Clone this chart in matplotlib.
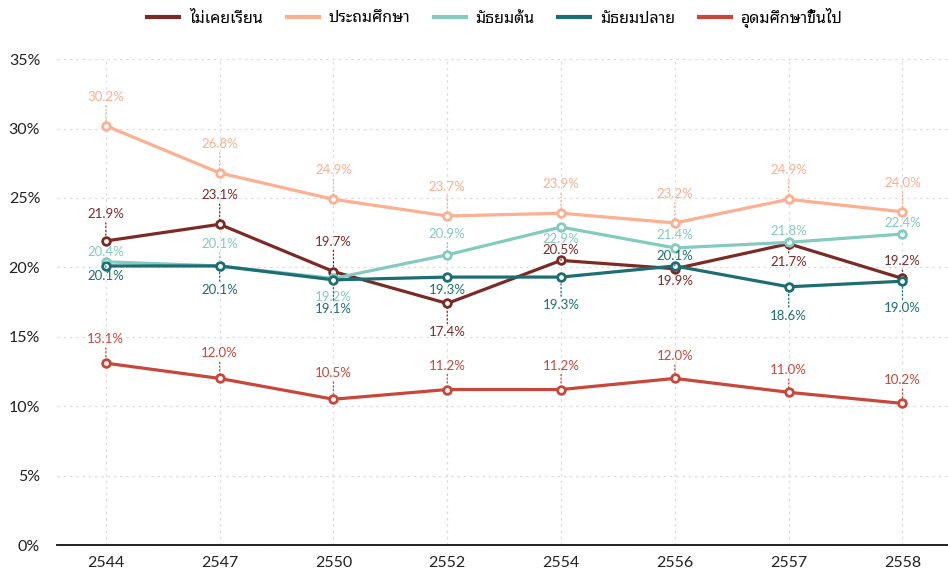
import matplotlib
matplotlib.use('Agg')
import matplotlib.pyplot as plt
from matplotlib.ticker import FuncFormatter

years = ['2544', '2547', '2550', '2552', '2554', '2556', '2557', '2558']

never = [21.9, 23.1, 19.7, 17.4, 20.5, 19.9, 21.7, 19.2]
primary = [30.2, 26.8, 24.9, 23.7, 23.9, 23.2, 24.9, 24.0]
lower_sec = [20.4, 20.1, 19.2, 20.9, 22.9, 21.4, 21.8, 22.4]
upper_sec = [20.1, 20.1, 19.1, 19.3, 19.3, 20.1, 18.6, 19.0]
higher = [13.1, 12.0, 10.5, 11.2, 11.2, 12.0, 11.0, 10.2]

names = ['ไม่เคยเรียน', 'ประถมศึกษา', 'มัธยมต้น', 'มัธยมปลาย', 'อุดมศึกษาขึ้นไป']
colors = ['#7b2b26', '#fdaf91', '#83cbbf', '#1c6e72', '#c8473a']

# label offsets in pixels (negative = above the point)
off_never = [-27, -29, -30, 29, -10, 12, 18, -17]
off_primary = [-29, -29, -29, -29, -29, -29, -29, -29]
off_lower = [-10, -22, 19, -21, 12, -13, -11, -11]
off_upper = [10, 24, 29, 13, 28, -10, 29, 27]
off_higher = [-24, -25, -26, -24, -24, -22, -22, -23]

series = [never, primary, lower_sec, upper_sec, higher]
offsets = [off_never, off_primary, off_lower, off_upper, off_higher]

thai = ['Noto Sans Thai Looped', 'Lato', 'DejaVu Sans']
num_font = ['Lato', 'DejaVu Sans']
tick_font = ['Liberation Sans Narrow', 'Lato', 'DejaVu Sans']

fig = plt.figure(figsize=(9.48, 5.71), dpi=100)
ax = fig.add_axes([0.060, 0.0455, 0.94, 0.851])

x = list(range(len(years)))
for vals, offs, name, c in zip(series, offsets, names, colors):
    ax.plot(x, vals, color=c, lw=2.3, marker='o', ms=5.5, mfc='white',
            mec=c, mew=2, label=name, zorder=3)
    for xi, v, o in zip(x, vals, offs):
        ax.annotate('%.1f%%' % v, (xi, v), xytext=(0, -o),
                    textcoords='offset pixels', ha='center', va='center',
                    fontsize=9.5, color=c, family=num_font, zorder=4,
                    arrowprops=dict(arrowstyle='-', color=c, lw=0.9,
                                    linestyle=(0, (1, 2)), shrinkA=0,
                                    shrinkB=3))

ax.set_ylim(0, 35)
ax.set_xlim(-0.43, 7.4)
ax.set_yticks(range(0, 36, 5))
ax.yaxis.set_major_formatter(FuncFormatter(lambda v, p: '%d%%' % v))
ax.set_xticks(x)
ax.set_xticklabels(years)
for lab in ax.get_xticklabels() + ax.get_yticklabels():
    lab.set_family(tick_font)
    lab.set_fontsize(11.5)
    lab.set_color('#222222')
ax.tick_params(length=0)
ax.tick_params(axis='y', pad=12)
ax.tick_params(axis='x', pad=8)

ax.grid(True, color='#dddddd', linestyle=(0, (2, 3)), lw=0.9)
ax.set_axisbelow(True)
for s in ['top', 'right', 'left']:
    ax.spines[s].set_visible(False)
ax.spines['bottom'].set_color('#222222')
ax.spines['bottom'].set_linewidth(1.4)
ax.spines['bottom'].set_zorder(5)

fig.legend(loc='center', bbox_to_anchor=(0.522, 1 - 18 / 571), ncol=5,
           frameon=False, prop={'family': thai, 'size': 11.5},
           handlelength=2.0, columnspacing=1.5, handletextpad=0.6)
for h in fig.legends[0].legend_handles:
    h.set_marker('')
    h.set_linewidth(3)

fig.savefig('out.png', dpi=100)
